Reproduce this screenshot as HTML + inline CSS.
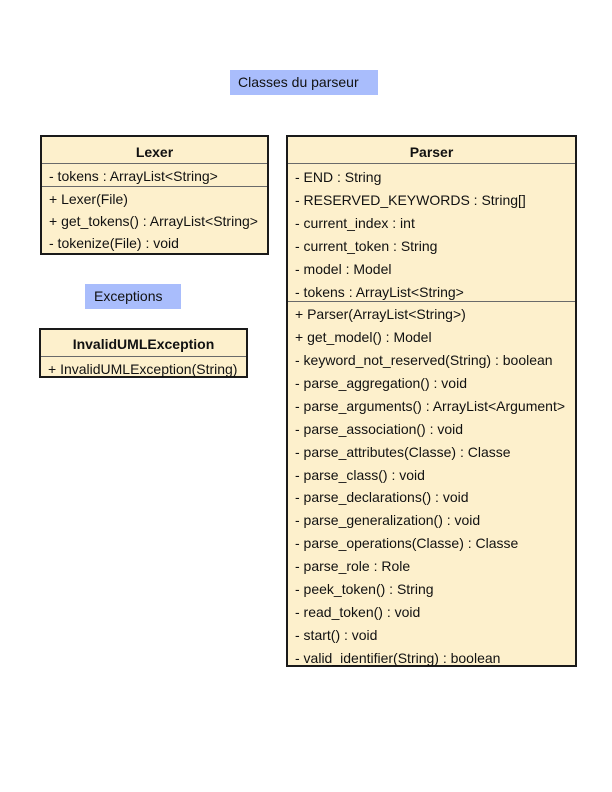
<!DOCTYPE html>
<html><head><meta charset="utf-8"><style>
body{margin:0;width:612px;height:792px;background:#fff;position:relative;overflow:hidden;font-family:"Liberation Sans",sans-serif;font-size:14px;color:#111}
.box{position:absolute;background:#fdf0cc;border:2px solid #1a1a1a;box-sizing:border-box}
.ln{position:absolute;left:0;right:0;height:1px;background:#6a6a6a}
.t{position:absolute;white-space:nowrap;line-height:16px}
.h{font-weight:bold;text-align:center;left:0;right:0}
.lab{position:absolute;background:#a9bdfc;font-size:14px;line-height:25px;box-sizing:border-box}
</style></head><body>
<div class="lab" style="left:230px;top:70px;width:148px;height:25px;padding-left:8px">Classes du parseur</div>
<div class="lab" style="left:85px;top:284px;width:96px;height:25px;padding-left:9px">Exceptions</div>

<div class="box" style="left:40px;top:135px;width:229px;height:120px">
<div class="t h" style="top:7px">Lexer</div>
<div class="ln" style="top:26px"></div>
<div class="t" style="left:7px;top:31px">- tokens : ArrayList&lt;String&gt;</div>
<div class="ln" style="top:49px"></div>
<div class="t" style="left:7px;top:54px">+ Lexer(File)</div>
<div class="t" style="left:7px;top:76px">+ get_tokens() : ArrayList&lt;String&gt;</div>
<div class="t" style="left:7px;top:98px">- tokenize(File) : void</div>
</div>

<div class="box" style="left:39px;top:328px;width:209px;height:50px">
<div class="t h" style="top:6px">InvalidUMLException</div>
<div class="ln" style="top:26px"></div>
<div class="t" style="left:7px;top:31px">+ InvalidUMLException(String)</div>
</div>

<div class="box" style="left:286px;top:135px;width:291px;height:532px">
<div class="t h" style="top:7px">Parser</div>
<div class="ln" style="top:26px"></div>
<div class="t" style="left:7px;top:32px">- END : String</div>
<div class="t" style="left:7px;top:55px">- RESERVED_KEYWORDS : String[]</div>
<div class="t" style="left:7px;top:78px">- current_index : int</div>
<div class="t" style="left:7px;top:101px">- current_token : String</div>
<div class="t" style="left:7px;top:124px">- model : Model</div>
<div class="t" style="left:7px;top:147px">- tokens : ArrayList&lt;String&gt;</div>
<div class="ln" style="top:164px"></div>
<div class="t" style="left:7px;top:169px">+ Parser(ArrayList&lt;String&gt;)</div>
<div class="t" style="left:7px;top:192px">+ get_model() : Model</div>
<div class="t" style="left:7px;top:215px">- keyword_not_reserved(String) : boolean</div>
<div class="t" style="left:7px;top:238px">- parse_aggregation() : void</div>
<div class="t" style="left:7px;top:261px">- parse_arguments() : ArrayList&lt;Argument&gt;</div>
<div class="t" style="left:7px;top:284px">- parse_association() : void</div>
<div class="t" style="left:7px;top:307px">- parse_attributes(Classe) : Classe</div>
<div class="t" style="left:7px;top:330px">- parse_class() : void</div>
<div class="t" style="left:7px;top:352px">- parse_declarations() : void</div>
<div class="t" style="left:7px;top:375px">- parse_generalization() : void</div>
<div class="t" style="left:7px;top:398px">- parse_operations(Classe) : Classe</div>
<div class="t" style="left:7px;top:421px">- parse_role : Role</div>
<div class="t" style="left:7px;top:444px">- peek_token() : String</div>
<div class="t" style="left:7px;top:467px">- read_token() : void</div>
<div class="t" style="left:7px;top:490px">- start() : void</div>
<div class="t" style="left:7px;top:513px">- valid_identifier(String) : boolean</div>
</div>
</body></html>
